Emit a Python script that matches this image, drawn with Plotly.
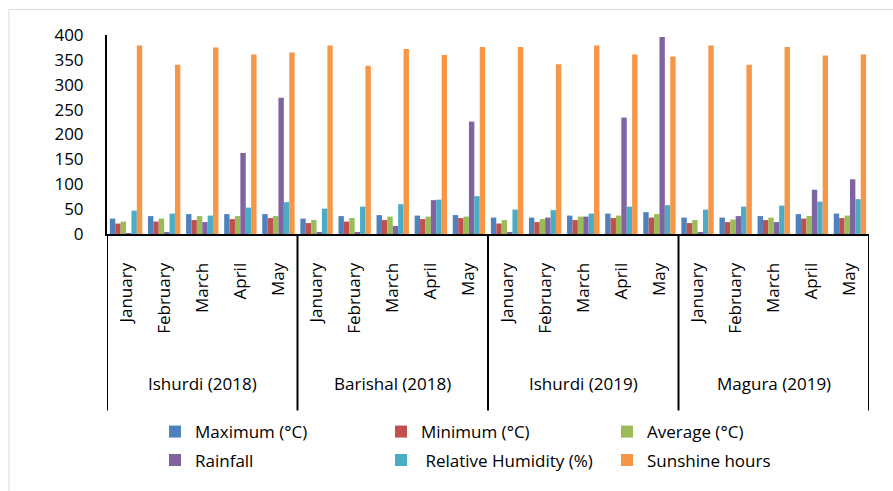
import plotly.graph_objects as go

stations = ["Ishurdi (2018)", "Barishal (2018)", "Ishurdi (2019)", "Magura (2019)"]
months = ["January", "February", "March", "April", "May"]

maximum = [31, 36, 40, 40, 40,  31, 36, 38, 37, 38,  33, 33, 37, 41, 44,  33, 33, 36, 40, 41]
minimum = [21, 25, 28, 30, 32,  22, 25, 28, 30, 32,  21, 24, 28, 32, 33,  22, 24, 28, 31, 32]
average = [25, 31, 36, 36, 36,  28, 32, 35, 35, 35,  28, 30, 35, 37, 40,  28, 29, 33, 36, 37]
rainfall = [2, 3, 24, 163, 274,  3, 3, 16, 68, 226,  3, 33, 35, 234, 396,  3, 36, 24, 89, 110]
humidity = [47, 41, 37, 53, 64,  51, 55, 60, 69, 76,  49, 48, 41, 55, 58,  49, 55, 57, 65, 70]
sunshine = [379, 340, 375, 361, 365,  379, 338, 372, 360, 376,  376, 341, 379, 361, 357,  379, 340, 376, 359, 361]

series_names = ["Maximum (°C)", "Minimum (°C)", "Average (°C)", "Rainfall",
                " Relative Humidity (%)", "Sunshine hours"]
series_values = [maximum, minimum, average, rainfall, humidity, sunshine]
colors = ["#4F81BD", "#C0504D", "#9BBB59", "#8064A2", "#4BACC6", "#F79646"]

x_inner = [m for _ in stations for m in months]
idx = list(range(len(x_inner)))
n = len(months)

W, H = 893, 491
ml, mr, mt, mb = 107, 24, 35, 253
pw = W - ml - mr
ph = H - mt - mb
base = mt + ph


def py(pix):
    return (base - pix) / ph


def px(pix):
    return (pix - ml) / pw


FONT = "Open Sans, DejaVu Sans, sans-serif"
FS = 17

fig = go.Figure()
for i, (name, vals, col) in enumerate(zip(series_names, series_values, colors)):
    fig.add_trace(go.Bar(
        x=idx, y=vals, name=name,
        marker=dict(color=col, line=dict(width=0)),
        legend="legend" if i < 3 else "legend2",
    ))

leg_common = dict(orientation="h", xanchor="left", yanchor="middle",
                  entrywidth=181, entrywidthmode="pixels",
                  font=dict(size=FS, family=FONT, color="black"),
                  traceorder="normal", bgcolor="rgba(0,0,0,0)")

fig.update_layout(
    width=W, height=H,
    margin=dict(l=ml, r=mr, t=mt, b=mb),
    barmode="group", bargap=0.15, bargroupgap=0,
    plot_bgcolor="white", paper_bgcolor="white",
    font=dict(family=FONT, size=FS, color="black"),
    showlegend=True,
    legend=dict(x=px(155), y=py(440), **leg_common),
    legend2=dict(x=px(155), y=py(469), **leg_common),
    xaxis=dict(range=[-0.5, len(idx) - 0.5], tickmode="array", tickvals=idx,
               ticktext=x_inner, tickangle=-90, showline=True, linecolor="black",
               linewidth=2, ticks="", showgrid=False, zeroline=False,
               ticklabelstandoff=20, tickfont=dict(size=FS)),
    yaxis=dict(range=[0, 400], dtick=50, showgrid=False, showline=True,
               linecolor="black", linewidth=2, ticks="", zeroline=False,
               ticklabelstandoff=18, tickfont=dict(size=FS)),
)

# group dividers and labels
for g, s in enumerate(stations + [None]):
    xb = g * n - 0.5
    fig.add_shape(type="line", xref="x", yref="paper", x0=xb, x1=xb,
                  y0=0, y1=py(418), line=dict(color="black", width=2))
    if s is not None:
        fig.add_annotation(x=g * n + (n - 1) / 2, xref="x", y=py(390), yref="paper",
                           text=s, showarrow=False, yanchor="middle",
                           font=dict(size=FS, family=FONT, color="black"))

fig.add_shape(type="rect", xref="paper", yref="paper",
              x0=px(9), x1=px(W + 20), y0=py(H + 20), y1=py(9),
              line=dict(color="#D9D9D9", width=1), fillcolor="rgba(0,0,0,0)")

fig.write_html("out.html", config={"displayModeBar": False},
               post_script="document.body.style.margin='0';")
